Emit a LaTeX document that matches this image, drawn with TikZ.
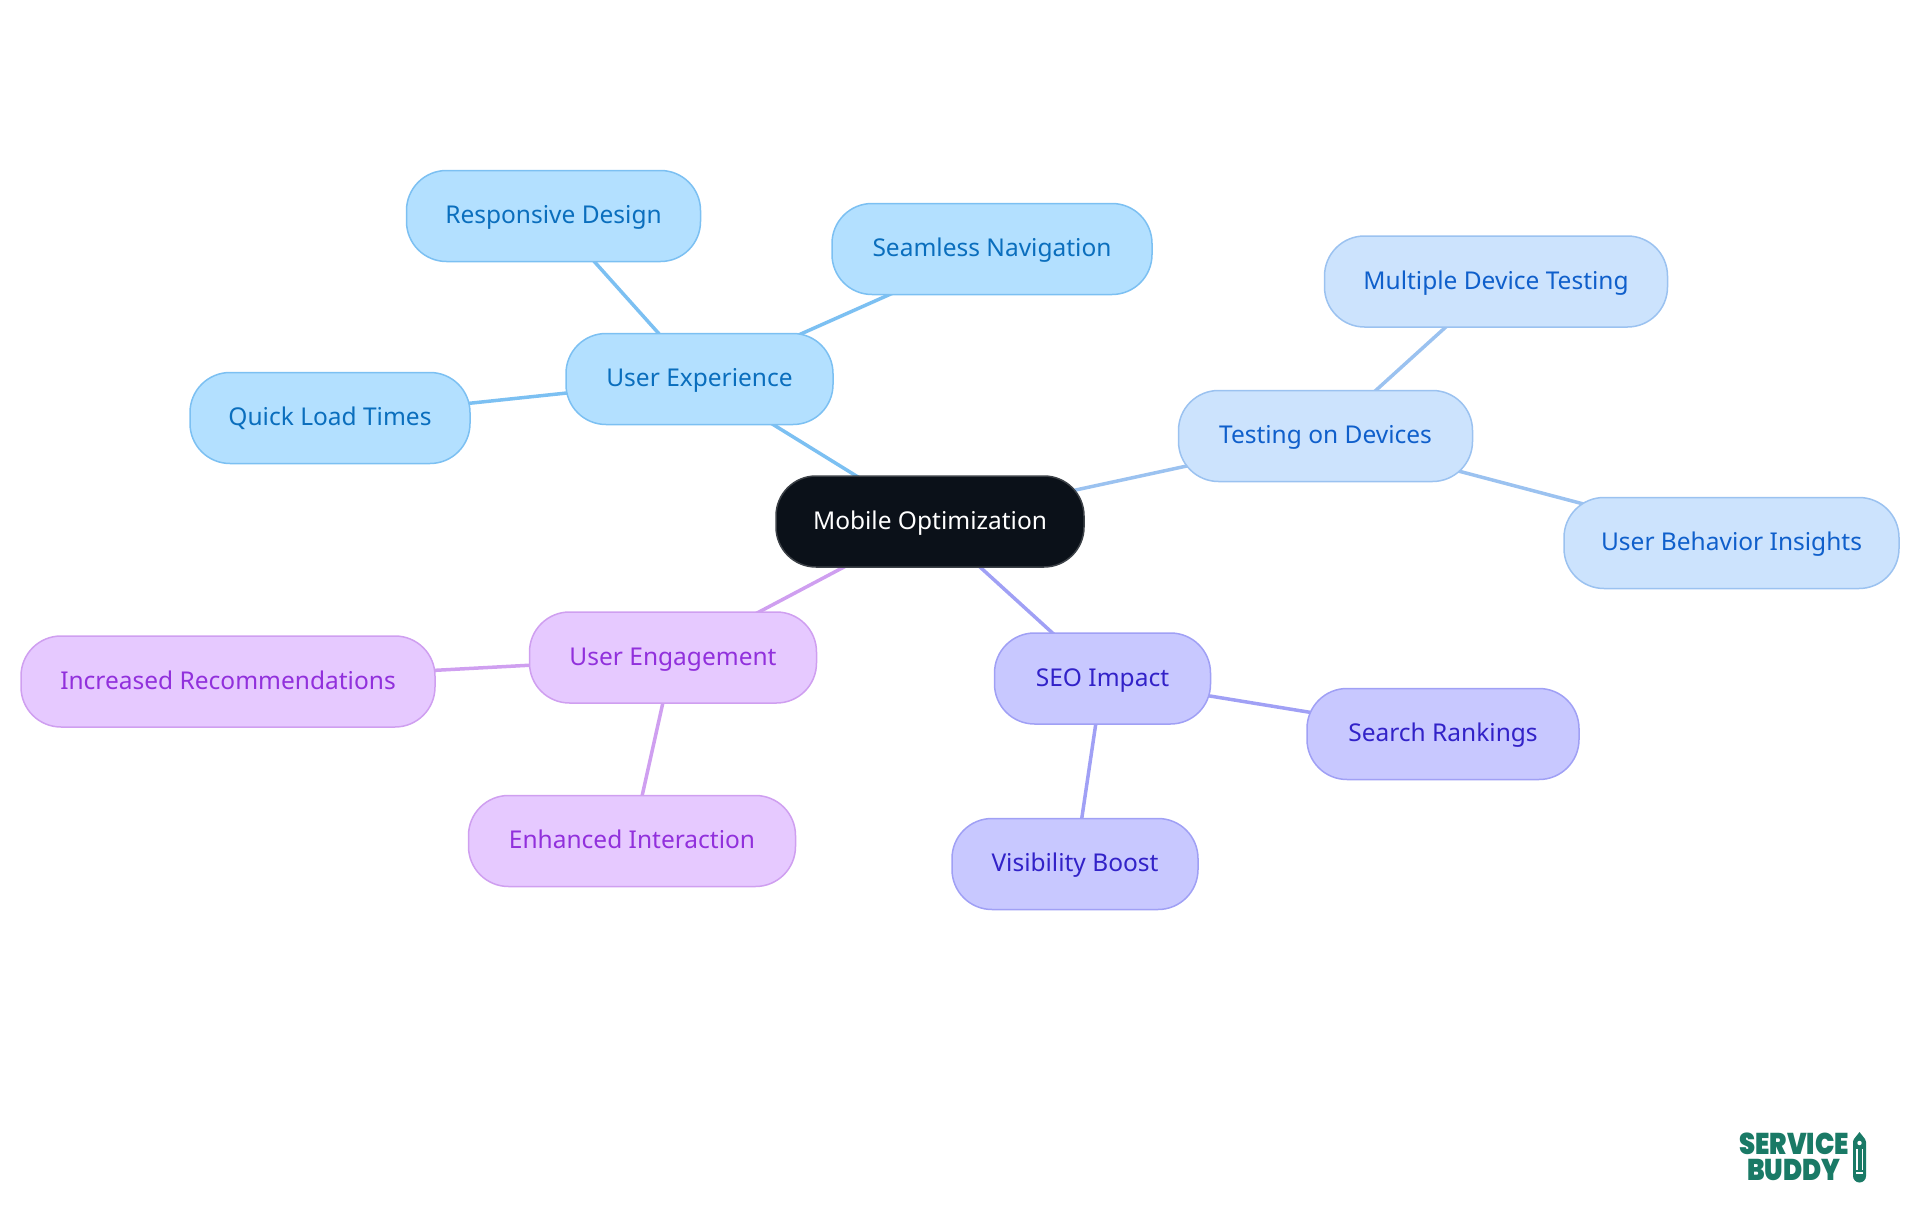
\documentclass[tikz,border=0pt]{standalone}
\usepackage{fontspec}
\setmainfont{Noto Sans}
\newfontfamily\logofont{Poppins Black}
\usetikzlibrary{backgrounds}
\definecolor{uxfill}{HTML}{B3E0FF}
\definecolor{uxline}{HTML}{7CC0F2}
\definecolor{uxtext}{HTML}{0A6EBD}
\definecolor{devfill}{HTML}{CCE3FD}
\definecolor{devline}{HTML}{9BC2F0}
\definecolor{devtext}{HTML}{0F5FCB}
\definecolor{seofill}{HTML}{C8C8FF}
\definecolor{seoline}{HTML}{A0A0F5}
\definecolor{seotext}{HTML}{3222C8}
\definecolor{engfill}{HTML}{E6C9FF}
\definecolor{engline}{HTML}{CF9FF0}
\definecolor{engtext}{HTML}{9130DC}
\definecolor{rootfill}{HTML}{0B1119}
\definecolor{logogreen}{HTML}{1A7A66}
\tikzset{
  box/.style={draw,line width=1.5pt,rounded corners=40pt,minimum height=91pt,inner sep=0pt,text height=21pt,text depth=6pt,font=\fontsize{24.5}{30}\selectfont},
  uxbox/.style={box,fill=uxfill,draw=uxline,text=uxtext},
  devbox/.style={box,fill=devfill,draw=devline,text=devtext},
  seobox/.style={box,fill=seofill,draw=seoline,text=seotext},
  engbox/.style={box,fill=engfill,draw=engline,text=engtext},
  link/.style={line width=3.5pt}
}
\begin{document}
\begin{tikzpicture}[x=1pt,y=-1pt]
  \useasboundingbox (0,0) rectangle (1920,1215);
  \node[box,fill=rootfill,draw=rootfill!80!white,text=white,minimum width=308pt] (root) at (930,521.5) {Mobile Optimization};
  \node[uxbox,minimum width=267pt] (ux) at (699.5,379) {User Experience};
  \node[uxbox,minimum width=294pt] (responsive) at (553.5,216) {Responsive Design};
  \node[uxbox,minimum width=320pt] (navigation) at (992,249) {Seamless Navigation};
  \node[uxbox,minimum width=280pt] (load) at (330,418) {Quick Load Times};
  \node[devbox,minimum width=294pt] (devices) at (1325.5,436) {Testing on Devices};
  \node[devbox,minimum width=343pt] (multiple) at (1496,281.5) {Multiple Device Testing};
  \node[devbox,minimum width=335pt] (behavior) at (1731.5,543) {User Behavior Insights};
  \node[engbox,minimum width=287pt] (engagement) at (673,657.5) {User Engagement};
  \node[engbox,minimum width=414pt] (recommend) at (228,681.5) {Increased Recommendations};
  \node[engbox,minimum width=327pt] (interaction) at (632,841) {Enhanced Interaction};
  \node[seobox,minimum width=216pt] (seo) at (1102.5,678.5) {SEO Impact};
  \node[seobox,minimum width=272pt] (rankings) at (1443,734) {Search Rankings};
  \node[seobox,minimum width=246pt] (visibility) at (1075,864) {Visibility Boost};
  % links go behind the boxes
  \begin{scope}[on background layer]
    \draw[link,uxline] (root.center) -- (ux.center);
    \draw[link,uxline] (ux.center) -- (responsive.center);
    \draw[link,uxline] (ux.center) -- (navigation.center);
    \draw[link,uxline] (ux.center) -- (load.center);
    \draw[link,devline] (root.center) -- (devices.center);
    \draw[link,devline] (devices.center) -- (multiple.center);
    \draw[link,devline] (devices.center) -- (behavior.center);
    \draw[link,engline] (root.center) -- (engagement.center);
    \draw[link,engline] (engagement.center) -- (recommend.center);
    \draw[link,engline] (engagement.center) -- (interaction.center);
    \draw[link,seoline] (root.center) -- (seo.center);
    \draw[link,seoline] (seo.center) -- (rankings.center);
    \draw[link,seoline] (seo.center) -- (visibility.center);
  \end{scope}
  % logo
  \node[inner sep=0pt,text=logogreen,font=\logofont\fontsize{30}{26}\selectfont,align=center] (logo) at (1794,1157) {\scalebox{0.86}[1]{SERVICE}\\\scalebox{0.86}[1]{BUDDY}};
  \fill[logogreen] (1853,1154) -- (1853,1142) -- (1853.5,1140) -- (1854,1139) -- (1859.5,1132) -- (1865,1139) -- (1866,1142) -- (1866,1176) arc (0:180:6.5) -- cycle;
  \fill[white] (1856,1149) rectangle (1857.5,1170);
  \fill[white] (1861.5,1149) rectangle (1863,1170);
  \fill[white] (1856,1172) rectangle (1863,1174);
  \fill[white] (1859.5,1143) circle (2.2);
\end{tikzpicture}
\end{document}
